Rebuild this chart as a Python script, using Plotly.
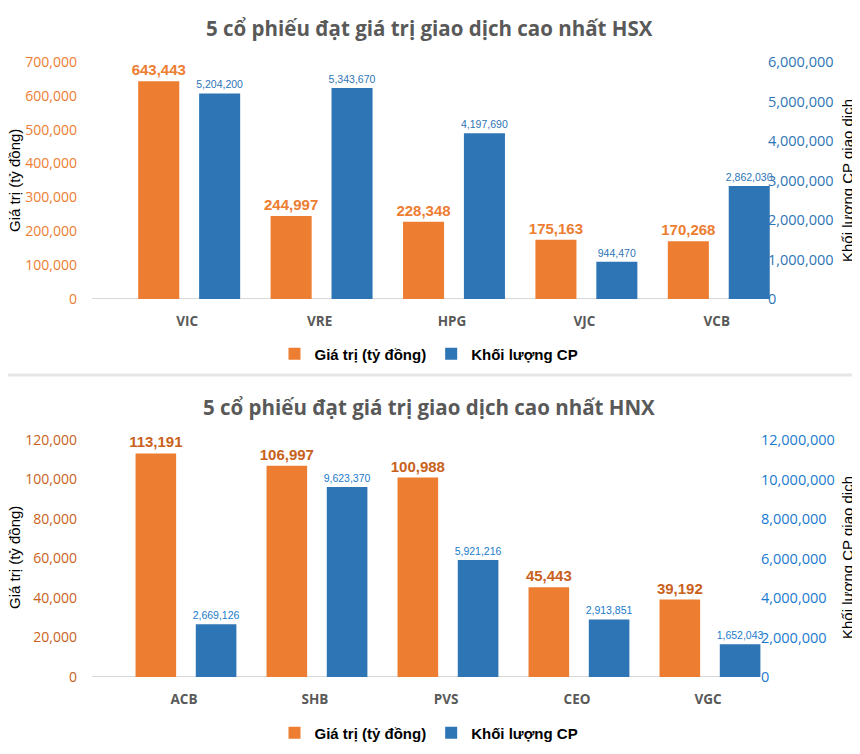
import plotly.graph_objects as go

# The page body has an 8px default margin; the figure is sized and positioned so
# that reference-pixel coordinates land where they should in the 860x754 window.
PAGE_W, PAGE_H = 860, 754
OFF = 8
W, H = PAGE_W - OFF, PAGE_H - OFF

# ---------------- data ----------------
hsx_codes = ["VIC", "VRE", "HPG", "VJC", "VCB"]
hsx_value = [643443, 244997, 228348, 175163, 170268]          # Giá trị (tỷ đồng)
hsx_volume = [5204200, 5343670, 4197690, 944470, 2862030]     # Khối lượng CP

hnx_codes = ["ACB", "SHB", "PVS", "CEO", "VGC"]
hnx_value = [113191, 106997, 100988, 45443, 39192]
hnx_volume = [2669126, 9623370, 5921216, 2913851, 1652043]

title_hsx = "5 cổ phiếu đạt giá trị giao dịch cao nhất HSX"
title_hnx = "5 cổ phiếu đạt giá trị giao dịch cao nhất HNX"
name_value = "Giá trị (tỷ đồng)"
name_volume = "Khối lượng CP"
ytitle_left = "Giá trị (tỷ đồng)"
ytitle_right = "Khối lượng CP giao dịch"

hsx_left_ticks = [0, 100000, 200000, 300000, 400000, 500000, 600000, 700000]
hsx_right_ticks = [0, 1000000, 2000000, 3000000, 4000000, 5000000, 6000000]
hnx_left_ticks = [0, 20000, 40000, 60000, 80000, 100000, 120000]
hnx_right_ticks = [0, 2000000, 4000000, 6000000, 8000000, 10000000, 12000000]

# ---------------- style ----------------
ORANGE = "#ED7D31"
BLUE = "#2E75B6"
ORANGE2 = "#C9611B"
BLUE2 = "#1B7BCB"
GRAY = "#595959"
NARROW = "Liberation Sans Narrow, Arial Narrow, Liberation Sans, sans-serif"
SANS = "Liberation Sans, Arial, sans-serif"
TICKF = "Open Sans, sans-serif"


def px_x(p):
    return (p - OFF) / W


def px_y(p):
    return 1 - (p - OFF) / H


BW = 0.31
OFF_O = -0.37
OFF_B = 0.09

fig = go.Figure()

common_bar = dict(textposition="outside", cliponaxis=False, constraintext="none",
                  texttemplate="%{y:,.0f}")

# top chart
fig.add_trace(go.Bar(
    x=hsx_codes, y=hsx_value, name=name_value, xaxis="x", yaxis="y",
    marker=dict(color=ORANGE, line=dict(width=0)), width=BW, offset=OFF_O,
    textfont=dict(family=NARROW, size=15, color=ORANGE, weight="bold"),
    legend="legend", **common_bar,
))
fig.add_trace(go.Bar(
    x=hsx_codes, y=hsx_volume, name=name_volume, xaxis="x", yaxis="y2",
    marker=dict(color=BLUE, line=dict(width=0)), width=BW, offset=OFF_B,
    textfont=dict(family=NARROW, size=10.5, color=BLUE),
    legend="legend", **common_bar,
))

# bottom chart
fig.add_trace(go.Bar(
    x=hnx_codes, y=hnx_value, name=name_value, xaxis="x2", yaxis="y3",
    marker=dict(color=ORANGE, line=dict(width=0)), width=BW, offset=OFF_O,
    textfont=dict(family=NARROW, size=15, color=ORANGE2, weight="bold"),
    legend="legend2", **common_bar,
))
fig.add_trace(go.Bar(
    x=hnx_codes, y=hnx_volume, name=name_volume, xaxis="x2", yaxis="y4",
    marker=dict(color=BLUE, line=dict(width=0)), width=BW, offset=OFF_B,
    textfont=dict(family=NARROW, size=10.5, color=BLUE2),
    legend="legend2", **common_bar,
))

top_dom = [px_y(299), px_y(62)]
bot_dom = [px_y(677), px_y(440)]

xcommon = dict(showgrid=False, zeroline=False, showline=False, ticks="outside",
               ticklen=10, tickcolor="rgba(0,0,0,0)", automargin=False,
               tickfont=dict(family=TICKF, size=13.5, color=GRAY, weight="bold"))
ycommon = dict(showgrid=False, zeroline=False, showline=False, ticks="",
               automargin=False, tickformat=",d")

fig.update_layout(
    width=W, height=H, margin=dict(l=0, r=0, t=0, b=0),
    paper_bgcolor="white", plot_bgcolor="white",
    barmode="overlay", showlegend=True,
    xaxis=dict(domain=[px_x(121), px_x(783)], anchor="y", **xcommon),
    yaxis=dict(domain=top_dom, anchor="free", position=px_x(77), range=[0, 700000],
               tickvals=hsx_left_ticks, tickfont=dict(family=TICKF, size=14, color=ORANGE), **ycommon),
    yaxis2=dict(overlaying="y", side="right", anchor="free", position=px_x(767),
                range=[0, 6000000], tickvals=hsx_right_ticks,
                tickfont=dict(family=TICKF, size=14.5, color=BLUE), **ycommon),
    xaxis2=dict(domain=[px_x(118.5), px_x(773.5)], anchor="y3", **xcommon),
    yaxis3=dict(domain=bot_dom, anchor="free", position=px_x(77), range=[0, 120000],
                tickvals=hnx_left_ticks, tickfont=dict(family=TICKF, size=14, color=ORANGE2), **ycommon),
    yaxis4=dict(overlaying="y3", side="right", anchor="free", position=px_x(760),
                range=[0, 12000000], tickvals=hnx_right_ticks,
                tickfont=dict(family=TICKF, size=14.5, color="#1A7AD0"), **ycommon),
    legend=dict(orientation="h", x=px_x(429), xanchor="center", y=px_y(354), yanchor="middle",
                font=dict(family=SANS, size=15, color="black", weight="bold"),
                itemwidth=30, bgcolor="rgba(0,0,0,0)", traceorder="normal"),
    legend2=dict(orientation="h", x=px_x(429), xanchor="center", y=px_y(733), yanchor="middle",
                 font=dict(family=SANS, size=15, color="black", weight="bold"),
                 itemwidth=30, bgcolor="rgba(0,0,0,0)", traceorder="normal"),
)

# baselines and separator
fig.add_shape(type="line", xref="paper", yref="y", x0=px_x(92), x1=px_x(753), y0=0, y1=0,
              line=dict(color="#D9D9D9", width=2), layer="below")
fig.add_shape(type="line", xref="paper", yref="y3", x0=px_x(92), x1=px_x(746), y0=0, y1=0,
              line=dict(color="#D9D9D9", width=2), layer="below")
fig.add_shape(type="line", xref="paper", yref="paper", x0=0, x1=1, y0=px_y(375), y1=px_y(375),
              line=dict(color="#E6E6E6", width=3))

# titles
for txt, yy in [(title_hsx, 28), (title_hnx, 407)]:
    fig.add_annotation(text=txt, xref="paper", yref="paper", x=px_x(429), y=px_y(yy),
                       xanchor="center", yanchor="middle", showarrow=False,
                       font=dict(family="Open Sans, sans-serif", size=20.5, color=GRAY, weight="bold"))

# axis titles
for yc in [181, 558]:
    fig.add_annotation(text=ytitle_left, xref="paper", yref="paper", x=px_x(14), y=px_y(yc),
                       xanchor="center", yanchor="middle", showarrow=False, textangle=-90,
                       font=dict(family=SANS, size=15, color="black"))
    fig.add_annotation(text=ytitle_right, xref="paper", yref="paper", x=px_x(847), y=px_y(yc),
                       xanchor="center", yanchor="middle", showarrow=False, textangle=-90,
                       font=dict(family=SANS, size=15, color="black"))

fig.write_html("out.html")
